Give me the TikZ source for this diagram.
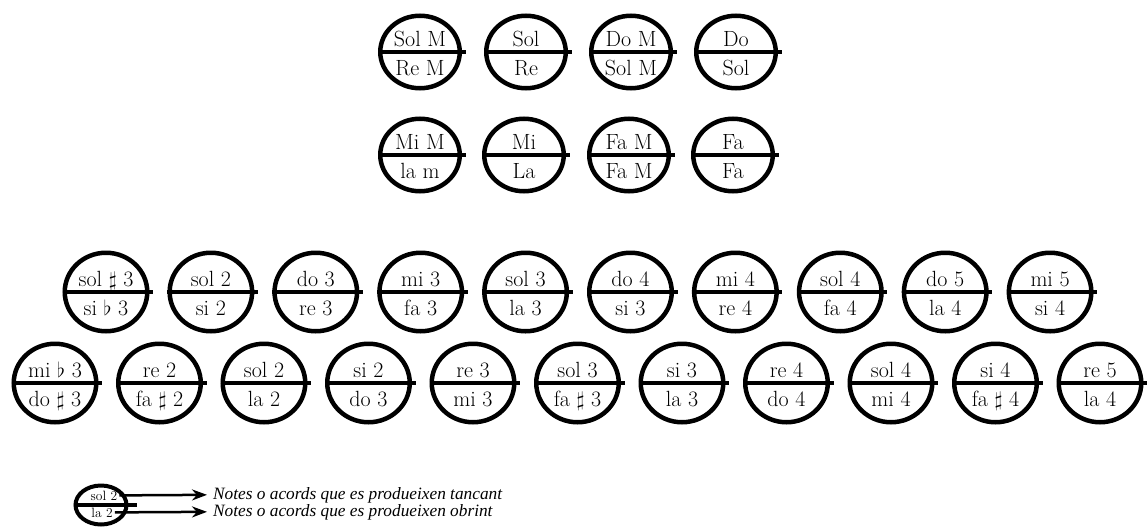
\documentclass[tikz,border=0pt]{standalone}
\usepackage{fontspec}
\newfontfamily\legfont{Liberation Serif}
\usetikzlibrary{shapes.geometric,arrows.meta}
\tikzset{
 disc/.style={draw, ellipse, line width=4.5pt, inner sep=0pt},
 bigdisc/.style={disc, minimum width=82.5pt, minimum height=78.5pt},
 topdisc/.style={disc, minimum width=79.5pt, minimum height=72.5pt},
 smalldisc/.style={draw, ellipse, line width=4pt, inner sep=0pt, minimum width=51pt, minimum height=39pt},
 bar/.style={line width=4pt},
 lab/.style={anchor=base, inner sep=0pt, font=\fontsize{22}{26}\selectfont},
 smalllab/.style={anchor=base, inner sep=0pt, font=\fontsize{13.5}{15}\selectfont},
 legtext/.style={anchor=base west, inner sep=0pt, font=\legfont\itshape\fontsize{17.3}{20}\selectfont},
 legarrow/.style={line width=2.5pt, -{Stealth[length=15pt, width=11pt]}},
}
\newcommand\mydisc[6]{%
 \node[#1] (#2) at (#3,#4) {};
 \draw[bar] (#2.west) -- ([xshift=3.5pt]#2.east);
 \node[lab] (#2-t) at (#3,#4-6) {#5};
 \node[lab] (#2-b) at (#3,#4+23) {#6};
}
\begin{document}
\begin{tikzpicture}[x=1pt,y=-1pt]
\useasboundingbox (0,0) rectangle (1148,530);
% row 1
\mydisc{topdisc}{a1}{420}{52}{Sol M}{Re M}
\mydisc{topdisc}{a2}{526}{52}{Sol}{Re}
\mydisc{topdisc}{a3}{631}{52}{Do M}{Sol M}
\mydisc{topdisc}{a4}{736}{52}{Do}{Sol}
% row 2
\mydisc{topdisc}{b1}{420}{155}{Mi M}{la m}
\mydisc{topdisc}{b2}{524}{155}{Mi}{La}
\mydisc{topdisc}{b3}{629}{155}{Fa M}{Fa M}
\mydisc{topdisc}{b4}{733}{155}{Fa}{Fa}
% row 3
\mydisc{bigdisc}{c1}{106}{292}{sol $\sharp$ 3}{si $\flat$ 3}
\mydisc{bigdisc}{c2}{210.9}{292}{sol 2}{si 2}
\mydisc{bigdisc}{c3}{315.8}{292}{do 3}{re 3}
\mydisc{bigdisc}{c4}{420.7}{292}{mi 3}{fa 3}
\mydisc{bigdisc}{c5}{525.6}{292}{sol 3}{la 3}
\mydisc{bigdisc}{c6}{630.5}{292}{do 4}{si 3}
\mydisc{bigdisc}{c7}{735.4}{292}{mi 4}{re 4}
\mydisc{bigdisc}{c8}{840.3}{292}{sol 4}{fa 4}
\mydisc{bigdisc}{c9}{945.2}{292}{do 5}{la 4}
\mydisc{bigdisc}{c10}{1050.1}{292}{mi 5}{si 4}
% row 4
\mydisc{bigdisc}{d1}{55}{383}{mi $\flat$ 3}{do $\sharp$ 3}
\mydisc{bigdisc}{d2}{159.5}{383}{re 2}{fa $\sharp$ 2}
\mydisc{bigdisc}{d3}{264}{383}{sol 2}{la 2}
\mydisc{bigdisc}{d4}{368.5}{383}{si 2}{do 3}
\mydisc{bigdisc}{d5}{473}{383}{re 3}{mi 3}
\mydisc{bigdisc}{d6}{577.5}{383}{sol 3}{fa $\sharp$ 3}
\mydisc{bigdisc}{d7}{682}{383}{si 3}{la 3}
\mydisc{bigdisc}{d8}{786.5}{383}{re 4}{do 4}
\mydisc{bigdisc}{d9}{891}{383}{sol 4}{mi 4}
\mydisc{bigdisc}{d10}{995.5}{383}{si 4}{fa $\sharp$ 4}
\mydisc{bigdisc}{d11}{1100}{383}{re 5}{la 4}
% legend
\node[smalldisc] (L) at (101,505) {};
\draw[bar] (L.west) -- ([xshift=8pt]L.east);
\node[smalllab] (Lt) at (104,500) {sol 2};
\node[smalllab] (Lb) at (102,517) {la 2};
\node[legtext] (T1) at (213,499) {Notes o acords que es produeixen tancant};
\node[legtext] (T2) at (213,516) {Notes o acords que es produeixen obrint};
\draw[legarrow] ([xshift=2pt]Lt.east) -- ([xshift=-6pt]T1.west);
\draw[legarrow] ([xshift=2pt]Lb.east) -- ([xshift=-6pt]T2.west);
\end{tikzpicture}
\end{document}
